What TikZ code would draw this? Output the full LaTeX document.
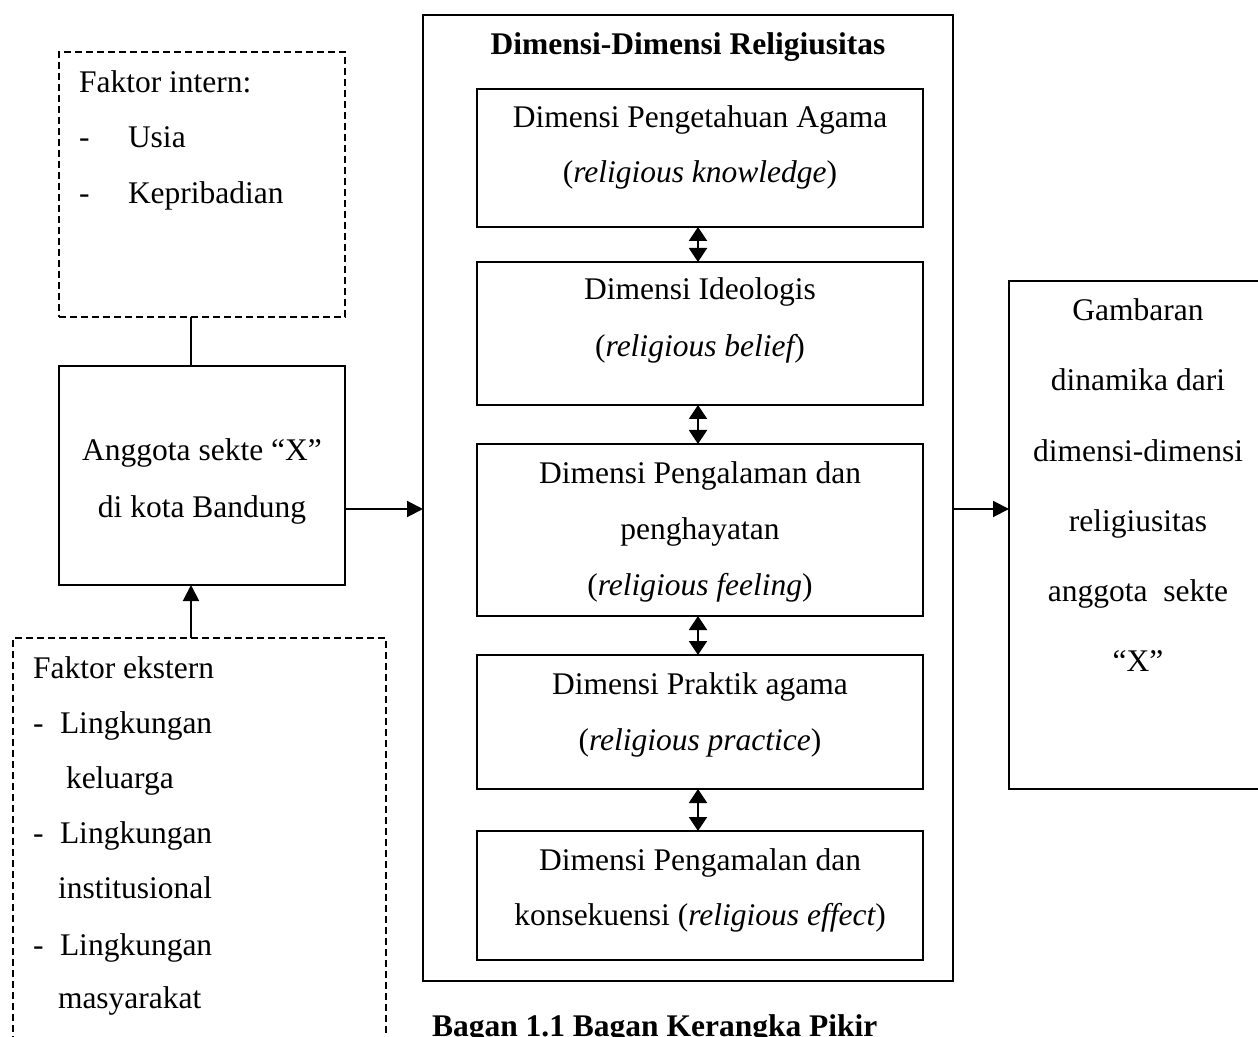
\documentclass[tikz,border=0pt]{standalone}
\usepackage{fontspec}
\setmainfont{Liberation Serif}
\usetikzlibrary{arrows.meta}
\begin{document}
\begin{tikzpicture}[x=0.5pt,y=-0.5pt,
  every node/.style={font=\fontsize{15.75}{18}\selectfont, inner sep=0pt, outer sep=0pt},
  box/.style={draw, line width=0.85pt, rectangle},
  dbox/.style={draw, line width=0.75pt, dash pattern=on 3.5pt off 2pt, rectangle},
  txt/.style={anchor=base},
  ltxt/.style={anchor=base west},
  arr/.style={line width=1pt, -{Triangle[length=8pt,width=8pt]}},
  darr/.style={line width=1pt, {Triangle[length=7pt,width=9pt]}-{Triangle[length=7pt,width=9pt]}},
  conn/.style={line width=0.75pt}]
\useasboundingbox (0,0) rectangle (1258,1037);
\clip (0,0) rectangle (1258,1037);

% helper coordinates
\coordinate (cx) at (191,0);
\coordinate (ax) at (698,0);
\coordinate (ay) at (0,509);

% left column
\node[dbox, minimum width=143pt, minimum height=132.5pt] (intern) at (202,184.5) {};
\node[ltxt] (intT) at (79,93) {Faktor intern:};
\node[ltxt] (intD1) at (79,148) {-};
\node[ltxt] (intU) at (128,148) {Usia};
\node[ltxt] (intD2) at (79,204) {-};
\node[ltxt] (intK) at (128,204) {Kepribadian};

\node[box, minimum width=143pt, minimum height=109.5pt] (anggota) at (202,475.5) {};
\node[txt] (angT1) at (202,460) {Anggota sekte “X”};
\node[txt] (angT2) at (202,517) {di kota Bandung};

\node[dbox, minimum width=186.5pt, minimum height=231pt] (ekstern) at (199.5,869) {};
\node[ltxt] (ekT) at (33,678) {Faktor ekstern};
\node[ltxt] (ekD1) at (33,733) {-};
\node[ltxt] (ekL1) at (60,733) {Lingkungan};
\node[ltxt] (ekK) at (66,788) {keluarga};
\node[ltxt] (ekD2) at (33,843) {-};
\node[ltxt] (ekL2) at (60,843) {Lingkungan};
\node[ltxt] (ekI) at (58,898) {institusional};
\node[ltxt] (ekD3) at (33,955) {-};
\node[ltxt] (ekL3) at (60,955) {Lingkungan};
\node[ltxt] (ekM) at (58,1008) {masyarakat};

% middle column
\node[box, minimum width=265pt, minimum height=483pt] (big) at (688,498) {};
\node[txt, font=\fontsize{15.75}{18}\selectfont\bfseries] (title) at (688,55) {Dimensi-Dimensi Religiusitas};

\node[box, minimum width=223pt, minimum height=69pt] (b1) at (700,158) {};
\node[txt] (b1a) at (700,128) {Dimensi Pengetahuan Agama};
\node[txt] (b1b) at (700,183) {({\itshape religious knowledge})};

\node[box, minimum width=223pt, minimum height=71.5pt] (b2) at (700,333.5) {};
\node[txt] (b2a) at (700,300) {Dimensi Ideologis};
\node[txt] (b2b) at (700,357) {({\itshape religious belief})};

\node[box, minimum width=223pt, minimum height=86pt] (b3) at (700,530) {};
\node[txt] (b3a) at (700,483) {Dimensi Pengalaman dan};
\node[txt] (b3b) at (700,539) {penghayatan};
\node[txt] (b3c) at (700,595) {({\itshape religious feeling})};

\node[box, minimum width=223pt, minimum height=67pt] (b4) at (700,722) {};
\node[txt] (b4a) at (700,694) {Dimensi Praktik agama};
\node[txt] (b4b) at (700,750) {({\itshape religious practice})};

\node[box, minimum width=223pt, minimum height=64.5pt] (b5) at (700,895.5) {};
\node[txt] (b5a) at (700,870) {Dimensi Pengamalan dan};
\node[txt] (b5b) at (700,925) {konsekuensi ({\itshape religious effect})};

\node[ltxt, font=\fontsize{15.75}{18}\selectfont\bfseries] (caption) at (432,1036) {Bagan 1.1 Bagan Kerangka Pikir};

% right column
\node[box, minimum width=129pt, minimum height=254pt] (right) at (1138,535) {};
\node[txt] (r1) at (1138,321) {Gambaran};
\node[txt] (r2) at (1138,391) {dinamika dari};
\node[txt] (r3) at (1138,461) {dimensi-dimensi};
\node[txt] (r4) at (1138,531) {religiusitas};
\node[txt] (r5) at (1138,601) {anggota~ sekte};
\node[txt] (r6) at (1138,671) {“X”};

% connectors
\draw[conn] (intern.south -| cx) -- (anggota.north -| cx);
\draw[arr] (ekstern.north -| cx) -- (anggota.south -| cx);
\draw[arr] (anggota.east |- ay) -- (big.west |- ay);
\draw[arr] (big.east |- ay) -- (right.west |- ay);
\draw[darr] (b1.south -| ax) -- (b2.north -| ax);
\draw[darr] (b2.south -| ax) -- (b3.north -| ax);
\draw[darr] (b3.south -| ax) -- (b4.north -| ax);
\draw[darr] (b4.south -| ax) -- (b5.north -| ax);
\end{tikzpicture}
\end{document}
